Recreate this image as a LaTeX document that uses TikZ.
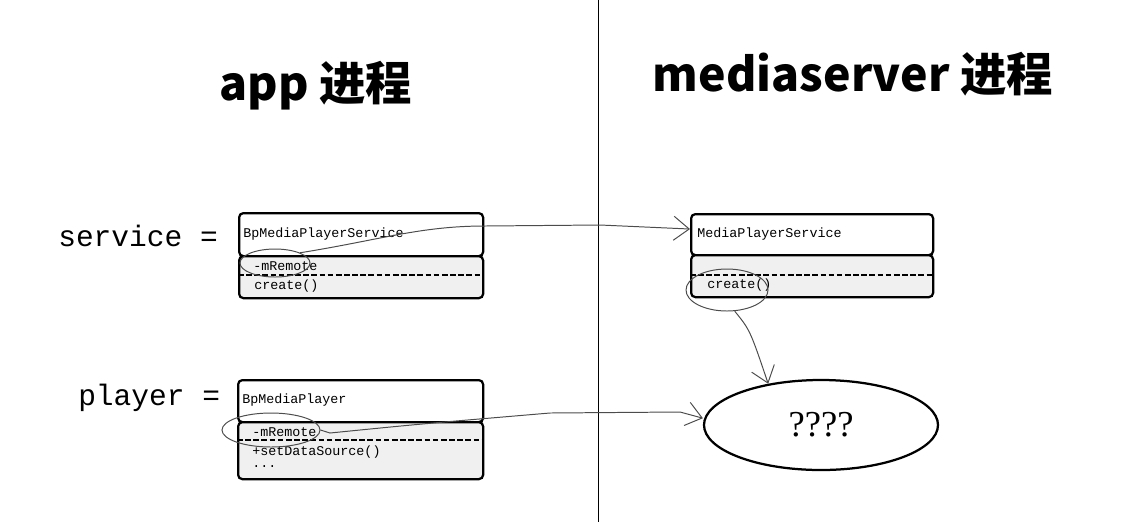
\documentclass[tikz,border=0pt]{standalone}
\usepackage{fontspec}
\newfontfamily\titlefont{Noto Sans CJK SC}
\newfontfamily\codefont{Liberation Mono}
\newfontfamily\qfont{Liberation Serif}
\usetikzlibrary{calc, positioning}
\usetikzlibrary{arrows.meta}
\usetikzlibrary{shapes.geometric}

\def\px{0.025cm}
\tikzset{
  head/.style={draw, line width=1.6pt, rounded corners=3pt, fill=white,
    minimum width=244*\px, minimum height=43*\px, inner sep=0, anchor=north west},
  body/.style={head, fill=black!6},
  member/.style={font=\codefont\fontsize{9.5}{11}\selectfont, anchor=west, inner sep=0},
  divider/.style={line width=1.5pt, dash pattern=on 4pt off 1.8pt},
  title/.style={font=\titlefont\bfseries\fontsize{33}{37}\selectfont},
  lhs/.style={font=\codefont\fontsize{21}{24}\selectfont, anchor=west, inner sep=0},
  ring/.style={draw, black!70, line width=0.7pt, ellipse, inner sep=0},
  sketch/.style={black!70, line width=0.7pt, -{Straight Barb[length=11pt, width=17pt]}},
}

\begin{document}
\begin{tikzpicture}[x=0.025cm, y=-0.025cm]
\useasboundingbox (0,0) rectangle (1131,522);

% process divider
\coordinate (divtop) at (598,0);
\coordinate (divbot) at (598,522);
\draw[line width=0.6pt] (divtop) -- (divbot);

\node[title] (appT) at (316,86) {app 进程};
\node[title] (srvT) at (853,74) {mediaserver 进程};

\node[lhs] (svcL) at (58,236) {service =};
\node[lhs] (plyL) at (78,398) {player =};

% BpMediaPlayerService
\node[head] (bpsH) at (238,212) {};
\node[body, minimum height=42*\px] (bpsB) at (238,255) {};
\draw[divider] (bpsB.west |- 0,275) -- (bpsB.east |- 0,275);
\node[member] (bpsN) at (243,234) {BpMediaPlayerService};
\node[member] (bpsR) at (253,266) {-mRemote};
\node[member] (bpsC) at (254,286) {create()};

% MediaPlayerService
\node[head, minimum width=242*\px, minimum height=41*\px] (mpsH) at (690,213) {};
\node[body, minimum width=242*\px, minimum height=42*\px] (mpsB) at (690,254) {};
\draw[divider] (mpsB.west |- 0,275) -- (mpsB.east |- 0,275);
\node[member] (mpsN) at (697,234) {MediaPlayerService};
\node[member] (mpsC) at (707,285) {create()};

% BpMediaPlayer
\node[head, minimum width=245*\px, minimum height=42*\px] (bpH) at (237,379) {};
\node[body, minimum width=245*\px, minimum height=57*\px] (bpB) at (237,421) {};
\draw[divider] (bpB.west |- 0,440) -- (bpB.east |- 0,440);
\node[member] (bpN) at (242,400) {BpMediaPlayer};
\node[member] (bpR) at (252,432) {-mRemote};
\node[member] (bpS) at (252,452) {+setDataSource()};
\node[member] (bpD) at (252,467) {...};

% unknown object
\node[draw, ellipse, line width=1.6pt, minimum width=234*\px, minimum height=90*\px,
  font=\qfont\fontsize{26}{30}\selectfont] (q) at (821,425) {????};

% hand-drawn marks
\node[ring, minimum width=70*\px, minimum height=28*\px] (r1) at (275,263) {};
\node[ring, minimum width=82*\px, minimum height=42*\px] (r2) at (727,290) {};
\node[ring, minimum width=98*\px, minimum height=34*\px] (r3) at (271,430) {};

\draw[sketch] (r1.north east) .. controls (380,240) and (420,226) .. (485,226)
  -- (600,225) -- ([yshift=0.14cm]mpsH.west);
\draw[sketch] (r2.-70) .. controls (750,330) .. (q.142);
\draw[sketch] (r3.east) -- (330,433) .. controls (420,424) .. (550,413)
  -- (680,412) -- ([yshift=0.17cm]q.west);
\end{tikzpicture}
\end{document}
